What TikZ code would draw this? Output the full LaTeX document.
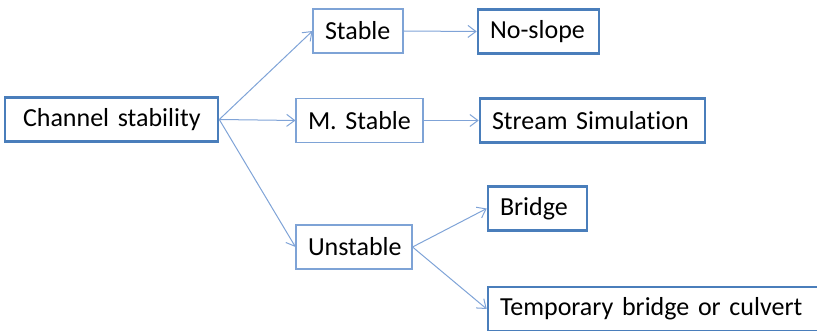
\documentclass[tikz,border=0pt]{standalone}
\usepackage{fontspec}
\setmainfont{Carlito}[Ligatures=NoCommon]
\usetikzlibrary{arrows.meta}
\definecolor{thinc}{HTML}{7EA3D6}
\definecolor{thickc}{HTML}{4A7EBB}
\definecolor{arrc}{HTML}{7FA3D7}
\frenchspacing
\begin{document}
\begin{tikzpicture}[x=0.75pt,y=-0.75pt,
  bx/.style={rectangle, inner xsep=12*0.75pt, inner ysep=0pt, align=left,
    minimum height=44*0.75pt, font=\fontsize{19.5}{22}\selectfont},
  thinbox/.style={bx, draw=thinc, line width=0.8pt},
  thickbox/.style={bx, draw=thickc, line width=1.9pt},
  arr/.style={draw=arrc, line width=0.75pt, -{Straight Barb[length=6pt,width=9pt]}}]
\useasboundingbox (0,0) rectangle (817,331);
\node[thickbox, text width=177*0.75pt, inner xsep=18*0.75pt, align=center] (cs) at (111.5,119.5) {\mbox{Channel stability}};
\node[thinbox, text width=66*0.75pt] (stable) at (358,31) {\mbox{Stable}};
\node[thinbox, text width=103*0.75pt] (mst) at (359.5,120.5) {\mbox{M. Stable}};
\node[thinbox, text width=92*0.75pt] (unst) at (354,247) {\mbox{Unstable}};
\node[thickbox, text width=97*0.75pt] (noslope) at (538.5,31.5) {\mbox{No-slope}};
\node[thickbox, text width=201*0.75pt] (ss) at (592.5,120.5) {\mbox{Stream Simulation}};
\node[thickbox, text width=75*0.75pt] (bridge) at (537.5,208.5) {\mbox{Bridge}};
\node[thickbox, text width=318*0.75pt] (temp) at (659,309) {\mbox{Temporary bridge or culvert}};
\draw[arr] (cs.east) -- (stable.west);
\draw[arr] (cs.east) -- (mst.west);
\draw[arr] (cs.east) -- (unst.west);
\draw[arr] (stable.east) -- (noslope.west);
\draw[arr] (mst.east) -- (ss.west);
\draw[arr] (unst.east) -- (bridge.west);
\draw[arr] (unst.east) -- (temp.west);
\end{tikzpicture}
\end{document}
